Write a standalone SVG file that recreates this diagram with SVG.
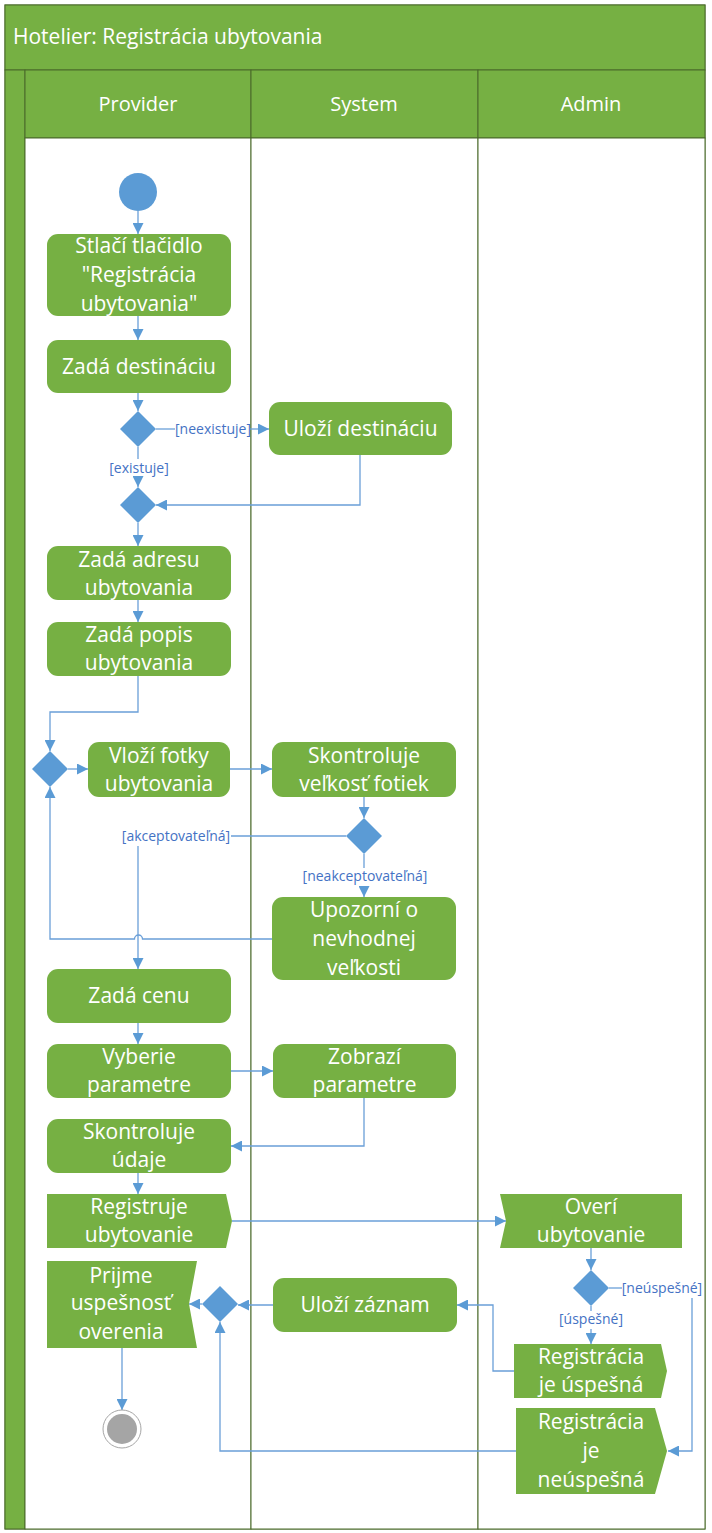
<svg xmlns="http://www.w3.org/2000/svg" width="712" height="1533" viewBox="0 0 712 1533">
<defs>
<style>
.hd{fill:#76B043;stroke:#4A6A2B;stroke-width:1}
.ln{fill:#fff;stroke:#4A6A2B;stroke-width:1}
.act{fill:#76B043}
.dec{fill:#5B9BD5}
.t{font-family:'Open Sans',sans-serif;font-size:21px;fill:#fff;text-anchor:middle}
.ht{font-family:'Open Sans',sans-serif;font-size:21px;fill:#fff}
.lh{font-family:'Open Sans',sans-serif;font-size:20px;fill:#fff;text-anchor:middle}
.lbl{font-family:'Open Sans',sans-serif;font-size:14px;fill:#4472C4;text-anchor:middle}
.c{fill:none;stroke:#6A9FD8;stroke-width:1.3}
.a{marker-end:url(#arr)}
</style>
<marker id="arr" markerWidth="11" markerHeight="11" refX="11" refY="5.5" orient="auto" markerUnits="userSpaceOnUse">
<path d="M0,0 L11,5.5 L0,11 Z" fill="#5B9BD5"/>
</marker>
</defs>
<g id="frame">
<rect x="5" y="5" width="700" height="1524" class="ln"/>
<rect x="5" y="5" width="700" height="65" class="hd"/>
<rect x="5" y="70" width="20" height="1459" class="hd"/>
<rect x="25" y="70" width="226" height="68" class="hd"/>
<rect x="251" y="70" width="227" height="68" class="hd"/>
<rect x="478" y="70" width="227" height="68" class="hd"/>
<rect x="25" y="138" width="226" height="1391" class="ln"/>
<rect x="251" y="138" width="227" height="1391" class="ln"/>
<rect x="478" y="138" width="227" height="1391" class="ln"/>
<text x="13" y="44" class="ht">Hotelier: Registrácia ubytovania</text>
<text x="138" y="111" class="lh">Provider</text>
<text x="364" y="111" class="lh">System</text>
<text x="591" y="111" class="lh">Admin</text>
</g>
<g id="connectors">
<path class="c a" d="M138,211 V234"/>
<path class="c a" d="M138,316 V340"/>
<path class="c a" d="M138,393 V411"/>
<path class="c" d="M156,429 H175"/>
<path class="c a" d="M250,429 H269"/>
<text x="213" y="434" class="lbl">[neexistuje]</text>
<path class="c" d="M138,447 V459"/>
<text x="139" y="473" class="lbl">[existuje]</text>
<path class="c a" d="M138,477 V487"/>
<path class="c a" d="M360,455 V505 H156"/>
<path class="c a" d="M138,523 V546"/>
<path class="c a" d="M138,600 V622"/>
<path class="c a" d="M138,676 V712 H50 V751"/>
<path class="c a" d="M68,769 H88"/>
<path class="c a" d="M230,769 H272"/>
<path class="c a" d="M364,797 V818"/>
<path class="c" d="M346,836 H231"/>
<text x="176" y="841" class="lbl">[akceptovateľná]</text>
<path class="c a" d="M138,846 V969"/>
<path class="c" d="M364,854 V868"/>
<text x="365" y="881" class="lbl">[neakceptovateľná]</text>
<path class="c a" d="M364,886 V897"/>
<path class="c a" d="M272,939 H142.5 A4,4 0 0 0 134.5,939 H50 V787"/>
<path class="c a" d="M138,1023 V1044"/>
<path class="c a" d="M231,1071 H273"/>
<path class="c a" d="M364,1098 V1146 H231"/>
<path class="c a" d="M138,1173 V1194"/>
<path class="c a" d="M232,1221 H506"/>
<path class="c a" d="M591,1248 V1270"/>
<path class="c" d="M609,1288 H622"/>
<text x="662" y="1293" class="lbl">[neúspešné]</text>
<path class="c a" d="M692,1298 V1451 H668"/>
<path class="c" d="M591,1306 V1311"/>
<text x="591" y="1324" class="lbl">[úspešné]</text>
<path class="c a" d="M591,1329 V1344"/>
<path class="c a" d="M514,1371 H493 V1305 H457"/>
<path class="c a" d="M273,1305 H238"/>
<path class="c a" d="M202,1304 H189"/>
<path class="c a" d="M516,1451 H220 V1322"/>
<path class="c a" d="M122,1348 V1410"/>
</g>
<g id="start"><circle cx="138" cy="192" r="19" fill="#5B9BD5"/></g>
<g id="n1"><rect x="47" y="234" width="184" height="82" rx="11" class="act"/>
<text class="t" x="139"><tspan x="139" y="253">Stlačí tlačidlo</tspan><tspan x="139" y="282">"Registrácia</tspan><tspan x="139" y="311">ubytovania"</tspan></text></g>
<g id="n2"><rect x="47" y="340" width="184" height="53" rx="11" class="act"/>
<text class="t" x="139" y="373.5">Zadá destináciu</text></g>
<g id="d1"><path d="M138,411 L156,429 L138,447 L120,429 Z" class="dec"/></g>
<g id="n3"><rect x="269" y="402" width="183" height="53" rx="11" class="act"/>
<text class="t" x="360.5" y="435.5">Uloží destináciu</text></g>
<g id="d2"><path d="M138,487 L156,505 L138,523 L120,505 Z" class="dec"/></g>
<g id="n4"><rect x="47" y="546" width="184" height="54" rx="11" class="act"/>
<text class="t"><tspan x="139" y="567">Zadá adresu</tspan><tspan x="139" y="595">ubytovania</tspan></text></g>
<g id="n5"><rect x="47" y="622" width="184" height="54" rx="11" class="act"/>
<text class="t"><tspan x="139" y="642">Zadá popis</tspan><tspan x="139" y="670">ubytovania</tspan></text></g>
<g id="d3"><path d="M50,751 L68,769 L50,787 L32,769 Z" class="dec"/></g>
<g id="n6"><rect x="88" y="742" width="142" height="55" rx="11" class="act"/>
<text class="t"><tspan x="159" y="762.5">Vloží fotky</tspan><tspan x="159" y="790.5">ubytovania</tspan></text></g>
<g id="n7"><rect x="272" y="742" width="184" height="55" rx="11" class="act"/>
<text class="t"><tspan x="364" y="762.5">Skontroluje</tspan><tspan x="364" y="790.5">veľkosť fotiek</tspan></text></g>
<g id="d4"><path d="M364,818 L382,836 L364,854 L346,836 Z" class="dec"/></g>
<g id="n8"><rect x="272" y="897" width="184" height="83" rx="11" class="act"/>
<text class="t"><tspan x="364" y="917">Upozorní o</tspan><tspan x="364" y="946">nevhodnej</tspan><tspan x="364" y="975">veľkosti</tspan></text></g>
<g id="n9"><rect x="47" y="969" width="184" height="54" rx="11" class="act"/>
<text class="t" x="139" y="1003">Zadá cenu</text></g>
<g id="n10"><rect x="47" y="1044" width="184" height="54" rx="11" class="act"/>
<text class="t"><tspan x="139" y="1064">Vyberie</tspan><tspan x="139" y="1092">parametre</tspan></text></g>
<g id="n11"><rect x="273" y="1044" width="183" height="54" rx="11" class="act"/>
<text class="t"><tspan x="364.5" y="1064">Zobrazí</tspan><tspan x="364.5" y="1092">parametre</tspan></text></g>
<g id="n12"><rect x="47" y="1119" width="184" height="54" rx="11" class="act"/>
<text class="t"><tspan x="139" y="1139">Skontroluje</tspan><tspan x="139" y="1167">údaje</tspan></text></g>
<g id="n13"><path d="M47,1194 H226 L232,1221 L226,1248 H47 Z" class="act"/>
<text class="t"><tspan x="139" y="1214">Registruje</tspan><tspan x="139" y="1242">ubytovanie</tspan></text></g>
<g id="n14"><path d="M500,1194 H682 V1248 H500 L506,1221 Z" class="act"/>
<text class="t"><tspan x="591" y="1214">Overí</tspan><tspan x="591" y="1242">ubytovanie</tspan></text></g>
<g id="d6"><path d="M591,1270 L609,1288 L591,1306 L573,1288 Z" class="dec"/></g>
<g id="n15"><path d="M514,1344 H661 L667,1371 L661,1398 H514 Z" class="act"/>
<text class="t"><tspan x="591" y="1364">Registrácia</tspan><tspan x="591" y="1392">je úspešná</tspan></text></g>
<g id="n16"><path d="M516,1408 H655 L667,1451 L655,1494 H516 Z" class="act"/>
<text class="t"><tspan x="591" y="1429">Registrácia</tspan><tspan x="591" y="1458">je</tspan><tspan x="591" y="1487">neúspešná</tspan></text></g>
<g id="n17"><rect x="273" y="1278" width="184" height="54" rx="11" class="act"/>
<text class="t" x="365" y="1312">Uloží záznam</text></g>
<g id="d5"><path d="M220,1286 L238,1304 L220,1322 L202,1304 Z" class="dec"/></g>
<g id="n18"><path d="M47,1261 H197 L189,1304 L197,1348 H47 Z" class="act"/>
<text class="t"><tspan x="121" y="1283">Prijme</tspan><tspan x="121" y="1310">uspešnosť</tspan><tspan x="121" y="1339">overenia</tspan></text></g>
<g id="end"><circle cx="122" cy="1429" r="19" fill="#fff" stroke="#A6A6A6" stroke-width="1"/><circle cx="122" cy="1429" r="15" fill="#A5A5A5"/></g>
</svg>
